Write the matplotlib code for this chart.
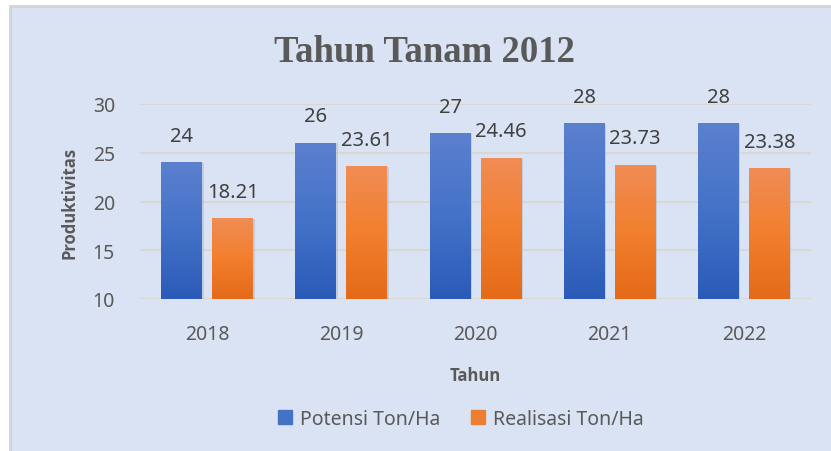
import numpy as np
import matplotlib.pyplot as plt
from matplotlib.patches import Rectangle
from matplotlib.colors import LinearSegmentedColormap

# Data
years = ["2018", "2019", "2020", "2021", "2022"]
potensi = [24, 26, 27, 28, 28]
realisasi = [18.21, 23.61, 24.46, 23.73, 23.38]
potensi_labels = ["24", "26", "27", "28", "28"]
realisasi_labels = ["18.21", "23.61", "24.46", "23.73", "23.38"]

bg = "#DAE3F3"
text_col = "#595959"
font = "Noto Sans"
bold_font = "Open Sans"

fig = plt.figure(figsize=(8.31, 4.52), dpi=100)
fig.patch.set_facecolor("white")
# chart area background with thin border on top/left
fig.patches.append(Rectangle((10 / 831, -0.05), 1.05, 1.05 - 7 / 452, transform=fig.transFigure,
                             facecolor=bg, edgecolor="#D4D4D4", linewidth=2, zorder=-10))

ax = fig.add_axes([140 / 831, 1 - 300 / 452, 671 / 831, 195 / 452])
ax.set_facecolor("none")

x = np.arange(len(years))
w = 0.305
off = 0.19

blue_cmap = LinearSegmentedColormap.from_list("b", ["#2A5BB8", "#4472C8", "#5B80CE"])
orange_cmap = LinearSegmentedColormap.from_list("o", ["#E46A18", "#F27F2E", "#F08C55"])

bars1 = ax.bar(x - off, potensi, w, bottom=0, color="none", zorder=3)
bars2 = ax.bar(x + off, realisasi, w, bottom=0, color="none", zorder=3)

ax.set_ylim(10, 30)
ax.set_xlim(-0.5, len(years) - 0.5)

grad = np.linspace(0, 1, 256).reshape(-1, 1)
for bars, cmap in [(bars1, blue_cmap), (bars2, orange_cmap)]:
    for b in bars:
        x0, w0, h0 = b.get_x(), b.get_width(), b.get_height()
        # soft shadow
        ax.add_patch(Rectangle((x0 + 0.012, 10), w0, h0 - 10 - 0.05,
                               facecolor="#9AA3B5", alpha=0.35, edgecolor="none", zorder=2))
        ax.imshow(grad, cmap=cmap, aspect="auto", origin="lower",
                  extent=(x0, x0 + w0, 10, h0), zorder=3)

for bars, labels in [(bars1, potensi_labels), (bars2, realisasi_labels)]:
    for b, lab in zip(bars, labels):
        ax.annotate(lab, (b.get_x() + b.get_width() / 2, b.get_height()),
                    xytext=(0, 12), textcoords="offset points", ha="center", va="bottom",
                    fontsize=14.5, color="#404040", family=font)

ax.set_xlim(-0.5, len(years) - 0.5)
ax.set_ylim(10, 30)
ax.set_yticks([10, 15, 20, 25, 30])
ax.set_xticks(x)
ax.set_xticklabels(years)
ax.tick_params(length=0, labelsize=14, labelcolor=text_col, pad=18)
for lab in ax.get_xticklabels() + ax.get_yticklabels():
    lab.set_family(font)
ax.grid(axis="y", color="#DAD7D2", linewidth=1.5, zorder=0)
ax.set_axisbelow(True)
for s in ax.spines.values():
    s.set_visible(False)

ax.set_ylabel("Produktivitas", fontsize=12, fontweight="bold", color=text_col,
              family=bold_font, labelpad=10)
ax.set_xlabel("Tahun", fontsize=12, fontweight="bold", color=text_col,
              family=bold_font, labelpad=16)

fig.text(425 / 831, 1 - 52 / 452, "Tahun Tanam 2012", ha="center", va="center",
         fontsize=26.5, fontweight="bold", color=text_col, family="Liberation Serif")

handles = [Rectangle((0, 0), 1, 1, color="#4472C4"), Rectangle((0, 0), 1, 1, color="#ED7D31")]
fig.legend(handles, ["Potensi Ton/Ha", "Realisasi Ton/Ha"], loc="center",
           bbox_to_anchor=(461 / 831, 1 - 420 / 452), ncol=2, frameon=False,
           prop={"family": font, "size": 14}, labelcolor=text_col,
           handlelength=0.7, handleheight=0.7, handletextpad=0.4, columnspacing=1.6)

fig.savefig("out.png", dpi=100, facecolor=fig.get_facecolor())
